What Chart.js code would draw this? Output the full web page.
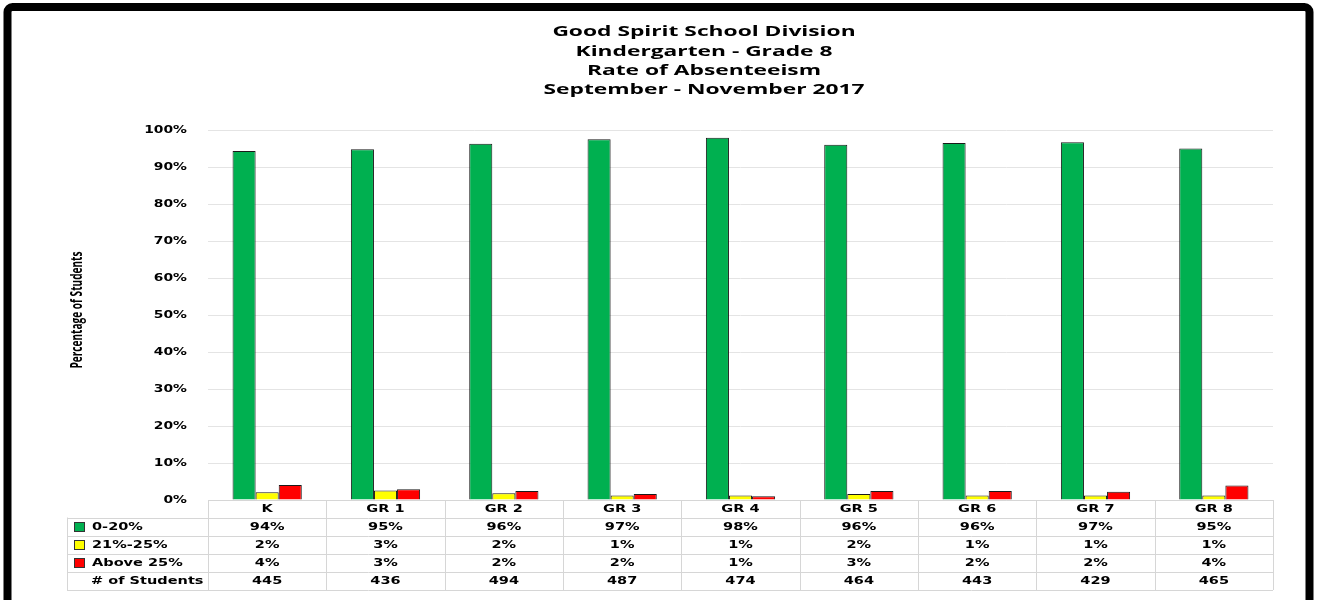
<!DOCTYPE html>
<html>
<head>
<meta charset="utf-8">
<script src="https://cdn.jsdelivr.net/npm/chart.js@4.4.1/dist/chart.umd.min.js"></script>
<style>
  html, body { margin: 0; padding: 0; background: #fff; overflow: hidden; }
  #wrap { position: relative; width: 1317px; height: 600px; }
</style>
</head>
<body>
<div id="wrap"><canvas id="chartAbs" role="img" aria-label="Rate of absenteeism by grade"></canvas></div>
<script>
var titleLines = ['Good Spirit School Division', 'Kindergarten - Grade 8', 'Rate of Absenteeism', 'September - November 2017'];
var yTitle = 'Percentage of Students';

var categories = ['K', 'GR 1', 'GR 2', 'GR 3', 'GR 4', 'GR 5', 'GR 6', 'GR 7', 'GR 8'];
var seriesNames = ['0-20%', '21%-25%', 'Above 25%'];
var seriesColors = ['#00B050', '#FFFF00', '#FF0000'];

// bar heights
var low  = [94.3, 94.8, 96.3, 97.5, 97.9, 96.0, 96.5, 96.7, 95.0];
var mid  = [2.1, 2.6, 1.8, 1.2, 1.25, 1.6, 1.2, 1.2, 1.2];
var high = [4.05, 2.9, 2.4, 1.6, 1.0, 2.4, 2.4, 2.2, 3.9];

// data table rows as printed
var lowTxt  = ['94%', '95%', '96%', '97%', '98%', '96%', '96%', '97%', '95%'];
var midTxt  = ['2%', '3%', '2%', '1%', '1%', '2%', '1%', '1%', '1%'];
var highTxt = ['4%', '3%', '2%', '2%', '1%', '3%', '2%', '2%', '4%'];
var students = ['445', '436', '494', '487', '474', '464', '443', '429', '465'];

var yTicks = [0, 10, 20, 30, 40, 50, 60, 70, 80, 90, 100];

var TXT_FONT = 'bold 11px "DejaVu Sans"';
var TXT_SX = 1.32;
var TICK_SX = 1.26;

function txt(ctx, s, x, y, font, align, sx, baseline) {
  ctx.save();
  ctx.font = font;
  ctx.fillStyle = '#000';
  ctx.textAlign = align;
  ctx.textBaseline = baseline || 'middle';
  ctx.translate(x, y);
  ctx.scale(sx, 1);
  ctx.fillText(s, 0, 0);
  ctx.restore();
}

var framePlugin = {
  id: 'frame',
  beforeDraw: function(chart) {
    var ctx = chart.ctx;
    ctx.save();
    ctx.fillStyle = '#fff';
    ctx.fillRect(0, 0, chart.width, chart.height);
    ctx.strokeStyle = '#000';
    ctx.lineWidth = 8;
    ctx.beginPath();
    ctx.roundRect(7.5, 7, 1302, 640, 5);
    ctx.stroke();
    ctx.restore();
  }
};

var decorPlugin = {
  id: 'decor',
  afterDraw: function(chart) {
    var ctx = chart.ctx;
    var a = chart.chartArea;
    var xs = chart.scales.x, ys = chart.scales.y;

    // titles
    var ty = [36, 55.5, 74.5, 94];
    titleLines.forEach(function(t, i) {
      txt(ctx, t, 704, ty[i], 'bold 14.5px "Open Sans"', 'center', 1.57, 'alphabetic');
    });

    // y axis title
    ctx.save();
    ctx.translate(77, 310);
    ctx.rotate(-Math.PI / 2);
    ctx.scale(0.63, 1);
    ctx.font = 'bold 16px "Open Sans"';
    ctx.fillStyle = '#000';
    ctx.textAlign = 'center';
    ctx.textBaseline = 'middle';
    ctx.fillText(yTitle, 0, 0);
    ctx.restore();

    // y tick labels
    ys.ticks.forEach(function(t) {
      txt(ctx, t.value + '%', 187, ys.getPixelForValue(t.value), TXT_FONT, 'right', TICK_SX);
    });

    // data table
    var n = categories.length;
    var colW = (a.right - a.left) / n;
    var rows = [a.bottom, 517.5, 535.7, 554, 572, 590];
    var legL = 67;
    ctx.save();
    ctx.strokeStyle = '#d6d6d6';
    ctx.lineWidth = 1;
    ctx.beginPath();
    ctx.moveTo(a.left, rows[0] + 0.5); ctx.lineTo(a.right, rows[0] + 0.5);
    for (var r = 1; r < rows.length; r++) {
      ctx.moveTo(legL, Math.round(rows[r]) + 0.5); ctx.lineTo(a.right, Math.round(rows[r]) + 0.5);
    }
    ctx.moveTo(legL + 0.5, rows[1]); ctx.lineTo(legL + 0.5, rows[5]);
    for (var c = 0; c <= n; c++) {
      var vx = Math.round(a.left + c * colW) + 0.5;
      ctx.moveTo(vx, rows[0]); ctx.lineTo(vx, rows[5]);
    }
    ctx.stroke();
    ctx.restore();

    var cells = [categories, lowTxt, midTxt, highTxt, students];
    cells.forEach(function(list, r) {
      var cy = (rows[r] + rows[r + 1]) / 2 + 0.5;
      list.forEach(function(s, i) {
        txt(ctx, s, xs.getPixelForValue(i), cy, TXT_FONT, 'center', TXT_SX);
      });
    });

    // legend column
    for (var k = 0; k < 3; k++) {
      var ly = (rows[k + 1] + rows[k + 2]) / 2;
      ctx.save();
      ctx.fillStyle = seriesColors[k];
      ctx.strokeStyle = '#333';
      ctx.lineWidth = 1;
      ctx.fillRect(74.5, Math.round(ly) - 4.5, 10, 9);
      ctx.strokeRect(74.5, Math.round(ly) - 4.5, 10, 9);
      ctx.restore();
      txt(ctx, seriesNames[k], 92, ly + 0.5, TXT_FONT, 'left', TXT_SX);
    }
    txt(ctx, '# of Students', 91, (rows[4] + rows[5]) / 2 + 0.5, TXT_FONT, 'left', TXT_SX);
  }
};

function barSet(label, data, color) {
  return {
    label: label,
    data: data,
    backgroundColor: color,
    borderColor: '#1a1a1a',
    borderWidth: 1,
    borderSkipped: 'bottom',
    barPercentage: 1,
    categoryPercentage: 0.585
  };
}

new Chart(document.getElementById('chartAbs'), {
  type: 'bar',
  data: {
    labels: categories,
    datasets: [
      barSet(seriesNames[0], low, seriesColors[0]),
      barSet(seriesNames[1], mid, seriesColors[1]),
      barSet(seriesNames[2], high, seriesColors[2])
    ]
  },
  options: {
    responsive: true,
    maintainAspectRatio: false,
    animation: false,
    layout: { padding: { left: 0, right: 44, top: 130, bottom: 100 } },
    plugins: { legend: { display: false }, title: { display: false }, tooltip: { enabled: false } },
    scales: {
      x: { display: false },
      y: {
        min: 0, max: 100,
        afterBuildTicks: function(s) { s.ticks = yTicks.map(function(v) { return { value: v }; }); },
        afterFit: function(s) { s.width = 208; },
        ticks: { display: false },
        grid: { color: '#e4e4e4', drawTicks: false },
        border: { display: false }
      }
    }
  },
  plugins: [framePlugin, decorPlugin]
});
</script>
</body>
</html>
